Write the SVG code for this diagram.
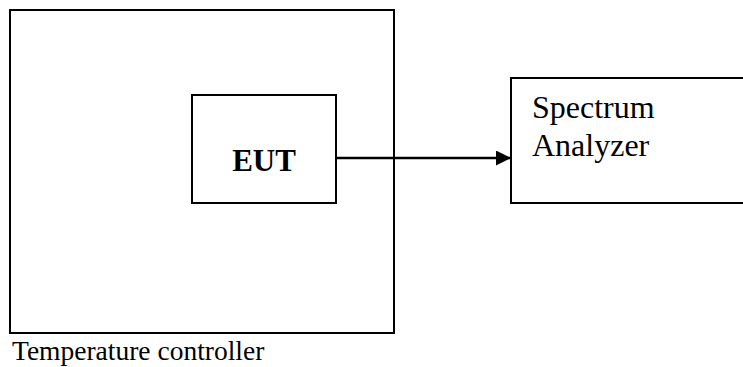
<svg xmlns="http://www.w3.org/2000/svg" width="743" height="367" viewBox="0 0 743 367">
<style>
.box{fill:none;stroke:#000;stroke-width:2}
.t{font-family:"Liberation Serif","Times New Roman",serif;fill:#000}
.ln{stroke:#000;stroke-width:2.5;fill:none}
</style>
<defs>
<marker id="ah" markerUnits="userSpaceOnUse" markerWidth="16" markerHeight="16" refX="15" refY="7.5" orient="auto">
<path d="M0,0 L15,7.5 L0,15 Z" fill="#000"/>
</marker>
</defs>
<rect width="743" height="367" fill="#fff"/>
<g id="temp-controller">
<rect class="box" x="10" y="10" width="384" height="323"/>
<text class="t" x="12" y="360" font-size="27.5">Temperature controller</text>
</g>
<g id="eut">
<rect class="box" x="192" y="95" width="144" height="108" fill="#fff"/>
<text class="t" x="264" y="171" font-size="31" font-weight="bold" text-anchor="middle">EUT</text>
</g>
<g id="spectrum-analyzer">
<rect class="box" x="511" y="78" width="240" height="125"/>
<text class="t" font-size="32"><tspan x="532" y="118">Spectrum</tspan><tspan x="532" y="156">Analyzer</tspan></text>
</g>
<g id="connectors">
<line class="ln" x1="336" y1="158" x2="511" y2="158" marker-end="url(#ah)"/>
</g>
</svg>
